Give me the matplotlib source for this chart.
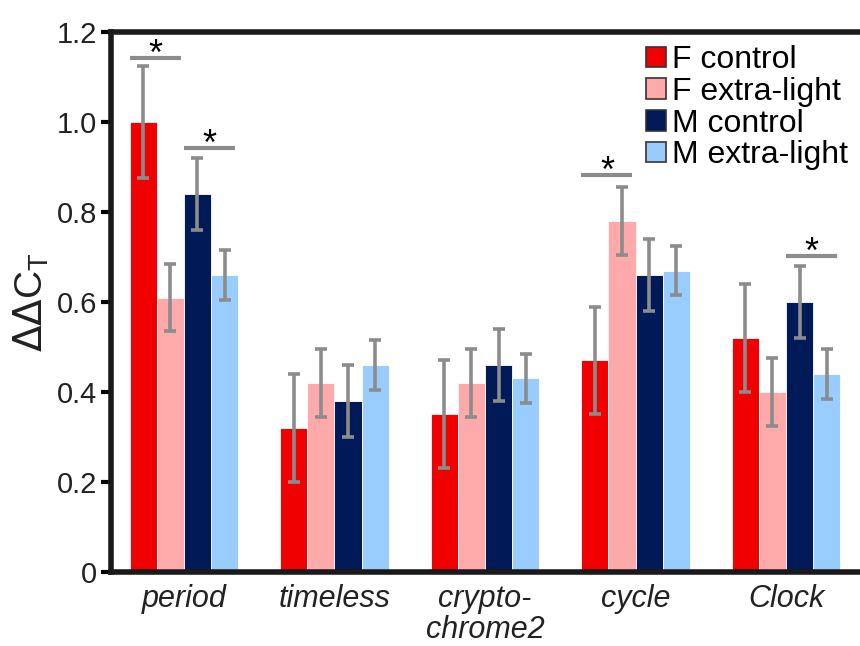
import numpy as np
import matplotlib
matplotlib.use("Agg")
import matplotlib.pyplot as plt
from matplotlib.patches import Patch

plt.rcParams['font.family'] = ['Liberation Sans', 'DejaVu Sans']

genes = ['period', 'timeless', 'crypto-\nchrome2', 'cycle', 'Clock']
series = ['F control', 'F extra-light', 'M control', 'M extra-light']
colors = ['#f00000', '#ffaaaa', '#001a57', '#99ccff']

f_control = [1.00, 0.32, 0.35, 0.47, 0.52]
f_extra = [0.61, 0.42, 0.42, 0.78, 0.40]
m_control = [0.84, 0.38, 0.46, 0.66, 0.60]
m_extra = [0.66, 0.46, 0.43, 0.67, 0.44]

f_control_err = [0.125, 0.12, 0.12, 0.12, 0.12]
f_extra_err = [0.075, 0.075, 0.075, 0.075, 0.075]
m_control_err = [0.08, 0.08, 0.08, 0.08, 0.08]
m_extra_err = [0.055, 0.055, 0.055, 0.055, 0.055]

# significance brackets: (gene index, first series, second series, height)
sig = [(0, 0, 1, 1.143), (0, 2, 3, 0.943), (3, 0, 1, 0.882), (4, 2, 3, 0.702)]

values = [f_control, f_extra, m_control, m_extra]
errors = [f_control_err, f_extra_err, m_control_err, m_extra_err]

fig = plt.figure(figsize=(8.6, 6.46), dpi=100)
ax = fig.add_axes([0.129, 0.1146, 0.876, 0.8358])

x = np.arange(len(genes))
w = 0.18
offsets = (np.arange(4) - 1.5) * w

for vals, errs, col, off in zip(values, errors, colors, offsets):
    ax.bar(x + off, vals, w, color=col, edgecolor='white', linewidth=0.6, zorder=2)
    ax.errorbar(x + off, vals, yerr=errs, fmt='none', ecolor='#8c8c8c',
                elinewidth=2.6, capsize=4, capthick=2.6, zorder=3)

for g, a, b, h in sig:
    x0 = x[g] + offsets[a] - w / 2
    x1 = x[g] + offsets[b] + w / 2 - 0.02
    ax.plot([x0, x1], [h, h], color='#8c8c8c', lw=3, solid_capstyle='butt', zorder=3)
    ax.text((x0 + x1) / 2, h - 0.034, '*', ha='center', va='bottom', fontsize=26,
            color='black', clip_on=False)

ax.set_xlim(-0.485, 4.52)
ax.set_ylim(0, 1.2)
ax.set_yticks([0, 0.2, 0.4, 0.6, 0.8, 1.0, 1.2])
ax.set_yticklabels(['0', '0.2', '0.4', '0.6', '0.8', '1.0', '1.2'], fontsize=21, color='#222222')
ax.set_xticks(x)
ax.set_xticklabels(genes, fontsize=22, style='italic', color='#222222', linespacing=1.02, va='top')
ax.tick_params(axis='x', length=0, pad=9)
ax.tick_params(axis='y', direction='out', length=7, width=3, pad=3)
for s in ax.spines.values():
    s.set_linewidth(4)
    s.set_color('#1a1a1a')

ax.set_ylabel(r'$\Delta\Delta$C$_\mathregular{T}$', fontsize=28, color='#222222')
ax.yaxis.set_label_coords(-0.08, 0.5)

handles = [Patch(facecolor=c, edgecolor='#333333', linewidth=1.2) for c in colors]
ax.legend(handles, series, loc='upper right', bbox_to_anchor=(1.0, 1.005), frameon=False,
          fontsize=23, handlelength=0.62, handleheight=0.62, handletextpad=0.2,
          labelspacing=0.05, borderaxespad=0.1)

fig.savefig('out.png', dpi=100)
